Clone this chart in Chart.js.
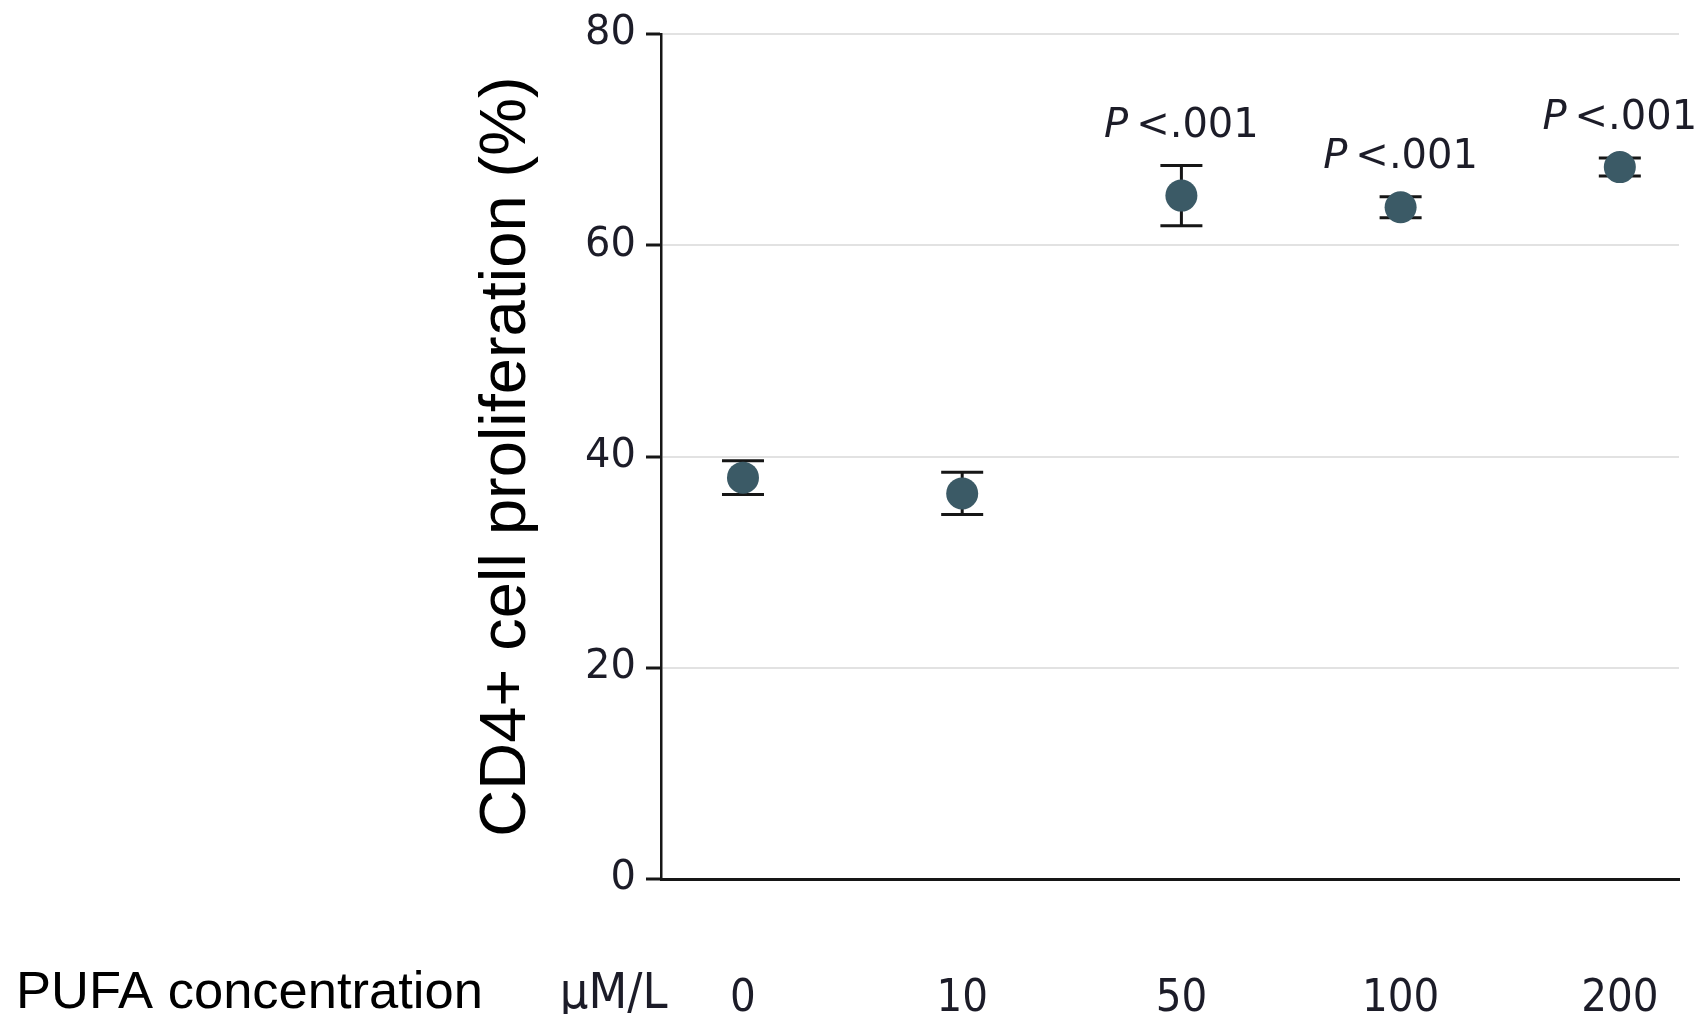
<!DOCTYPE html>
<html>
<head>
<meta charset="utf-8">
<script src="https://cdn.jsdelivr.net/npm/chart.js@4.4.0/dist/chart.umd.min.js"></script>
<style>
  html, body { margin: 0; padding: 0; background: #fff; overflow: hidden; }
  #wrap { width: 1698px; height: 1014px; position: relative; }
  canvas { display: block; }
</style>
</head>
<body>
<div id="wrap"><canvas id="chart"></canvas></div>
<script>
// Dados
const concentracoes = ['0', '10', '50', '100', '200'];
const medias = [38.0, 36.5, 64.7, 63.6, 67.4];
const erros = [1.6, 2.0, 2.85, 1.0, 0.85];
const significancia = ['', '', '.001', '.001', '.001'];
const yTicks = [0, 20, 40, 60, 80];
const unidade = 'μM/L';
const rotuloX = 'PUFA concentration';
const rotuloY = 'CD4+ cell proliferation (%)';

const corPonto = '#3b5a66';
const corTexto = '#1c1c28';
const fonteCond = '"DejaVu Sans Condensed", "DejaVu Sans"';

// Barras de erro desenhadas antes dos pontos
const errorBars = {
    id: 'errorBars',
    beforeDatasetsDraw(chart) {
        const { ctx, scales: { x, y } } = chart;
        ctx.save();
        ctx.strokeStyle = '#161616';
        ctx.lineWidth = 3;
        medias.forEach((m, i) => {
            const px = x.getPixelForValue(i);
            const top = y.getPixelForValue(m + erros[i]);
            const bot = y.getPixelForValue(m - erros[i]);
            ctx.beginPath();
            ctx.moveTo(px, top); ctx.lineTo(px, bot);
            ctx.moveTo(px - 21, top); ctx.lineTo(px + 21, top);
            ctx.moveTo(px - 21, bot); ctx.lineTo(px + 21, bot);
            ctx.stroke();
        });
        ctx.restore();
    }
};

// Rótulos de P e textos do eixo X
const anotacoes = {
    id: 'anotacoes',
    afterDraw(chart) {
        const { ctx, scales: { x, y } } = chart;
        ctx.save();
        ctx.fillStyle = corTexto;
        ctx.textBaseline = 'alphabetic';
        significancia.forEach((s, i) => {
            if (!s) return;
            const px = x.getPixelForValue(i);
            const py = y.getPixelForValue(medias[i] + erros[i]) - 29;
            const fItal = 'oblique 40px "DejaVu Sans"';
            const fNorm = '40px "DejaVu Sans"';
            ctx.font = fItal;
            const wP = ctx.measureText('P').width;
            ctx.font = fNorm;
            const resto = '\u2009<' + s;
            const wR = ctx.measureText(resto).width;
            const x0 = px - (wP + wR) / 2;
            ctx.font = fItal;
            ctx.textAlign = 'left';
            ctx.fillText('P', x0, py);
            ctx.font = fNorm;
            ctx.fillText(resto, x0 + wP, py);
        });
        // unidade e título do eixo X
        ctx.textAlign = 'center';
        ctx.font = '50px ' + fonteCond;
        ctx.fillText(unidade, x.getPixelForValue(-0.59), 1008);
        ctx.fillStyle = '#000';
        ctx.textAlign = 'left';
        ctx.font = '52.5px "Liberation Sans"';
        ctx.fillText(rotuloX, 16, 1008);
        ctx.restore();
    }
};

new Chart(document.getElementById('chart'), {
    type: 'scatter',
    data: {
        datasets: [{
            data: medias.map((m, i) => ({ x: i, y: m })),
            backgroundColor: corPonto,
            borderWidth: 0,
            pointRadius: 16,
            pointHoverRadius: 16
        }]
    },
    options: {
        responsive: true,
        maintainAspectRatio: false,
        animation: false,
        layout: { padding: { left: 468, top: 30, right: 19, bottom: 0 } },
        plugins: { legend: { display: false }, tooltip: { enabled: false } },
        scales: {
            x: {
                type: 'linear',
                min: -0.374,
                max: 4.27,
                afterBuildTicks: s => { s.ticks = concentracoes.map((c, i) => ({ value: i })); },
                afterFit: s => { s.height = 135; s.paddingLeft = 0; s.paddingRight = 0; },
                grid: { display: false },
                border: { display: true, color: '#161616', width: 3 },
                ticks: {
                    padding: 85,
                    font: { family: 'DejaVu Sans Condensed', size: 45 },
                    color: corTexto,
                    callback: (v) => concentracoes[v]
                }
            },
            y: {
                min: 0,
                max: 80,
                afterBuildTicks: s => { s.ticks = yTicks.map(v => ({ value: v })); },
                afterFit: s => { s.width = 661 - 468; },
                grid: {
                    color: '#e2e2e2',
                    lineWidth: 2,
                    tickColor: '#161616',
                    tickWidth: 3,
                    tickLength: 15
                },
                border: { display: true, color: '#161616', width: 2.5 },
                ticks: {
                    padding: 10,
                    font: { family: 'DejaVu Sans', size: 40 },
                    color: corTexto
                },
                title: {
                    display: true,
                    text: rotuloY,
                    color: '#000',
                    font: { family: 'Liberation Sans', size: 65 },
                    padding: 0
                }
            }
        }
    },
    plugins: [errorBars, anotacoes]
});
</script>
</body>
</html>
